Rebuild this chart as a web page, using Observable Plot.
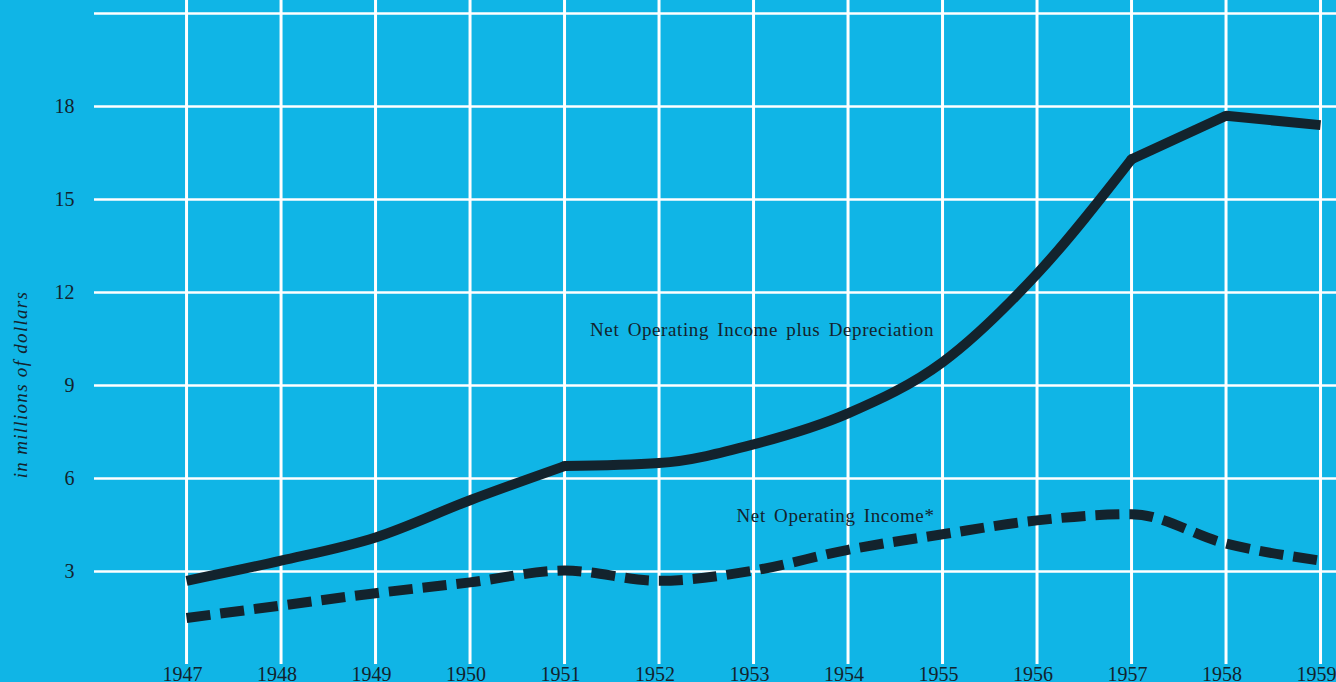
<!DOCTYPE html>
<html>
<head>
<meta charset="utf-8">
<script src="https://cdn.jsdelivr.net/npm/d3@7"></script>
<script src="https://cdn.jsdelivr.net/npm/@observablehq/plot@0.6"></script>
<style>
  html, body { margin: 0; padding: 0; background: #10b5e6; }
  #chart svg { display: block; }
</style>
</head>
<body>
<div id="chart"></div>
<script>
// Years on the horizontal axis
const years = [1947, 1948, 1949, 1950, 1951, 1952, 1953, 1954, 1955, 1956, 1957, 1958, 1959];
// Net operating income plus depreciation, millions of dollars
const netPlusDepreciation = [2.7, 3.35, 4.1, 5.3, 6.4, 6.5, 7.1, 8.1, 9.75, 12.6, 16.3, 17.7, 17.4];
// Net operating income, millions of dollars
const netOperatingIncome = [1.5, 1.9, 2.3, 2.65, 3.03, 2.7, 3.03, 3.7, 4.2, 4.65, 4.85, 3.9, 3.35];
// Labelled y ticks and horizontal grid values
const yTickValues = [3, 6, 9, 12, 15, 18];
const yGridValues = [3, 6, 9, 12, 15, 18, 21];
// Years where the solid line turns sharply
const bendYears = [1951, 1957];

const solidRows = years.map((year, i) => ({year, value: netPlusDepreciation[i]}));
const dashedRows = years.map((year, i) => ({year, value: netOperatingIncome[i]}));

const ink = "#13232d";
const serif = "'Liberation Serif', 'DejaVu Serif', serif";

// the solid line is drawn in pieces so it can bend sharply at the bend years
const solidEarly = solidRows.filter((d) => d.year <= bendYears[0]);
const solidMiddle = solidRows.filter((d) => d.year >= bendYears[0] && d.year <= bendYears[1]);
const solidLate = solidRows.filter((d) => d.year >= bendYears[1]);
const solidBends = solidRows.filter((d) => bendYears.includes(d.year));

const solidStyle = {x: "year", y: "value", stroke: ink, strokeWidth: 10, strokeLinecap: "butt", strokeLinejoin: "miter"};

const chart = Plot.plot({
  width: 1336,
  height: 682,
  marginLeft: 94,
  marginRight: 0,
  marginTop: 0,
  marginBottom: 18,
  style: {background: "#10b5e6", fontFamily: serif, color: ink, overflow: "visible"},
  x: {type: "linear", domain: [1946.026, 1959.169]},
  y: {domain: [0, 21.42]},
  marks: [
    Plot.ruleY(yGridValues, {stroke: "white", strokeWidth: 2.5}),
    Plot.ruleX(years, {stroke: "white", strokeWidth: 3}),
    Plot.axisY(yTickValues, {
      tickSize: 0, tickPadding: 20, fontSize: 20, fill: ink, label: null
    }),
    Plot.axisX(years, {
      tickSize: 0, tickPadding: 2, fontSize: 20, fill: ink, label: null,
      tickFormat: (d) => String(d), dx: -4
    }),
    // rotated unit caption beside the y axis
    Plot.text(["in millions of dollars"], {
      frameAnchor: "left", textAnchor: "middle", rotate: -90, dx: -74, dy: 52,
      fontSize: 19, fontStyle: "italic", fill: ink, fontFamily: serif
    }),
    Plot.line(solidEarly, {...solidStyle, curve: "monotone-x"}),
    Plot.line(solidMiddle, {...solidStyle, curve: "monotone-x"}),
    Plot.line(solidLate, {...solidStyle, curve: "linear"}),
    Plot.dot(solidBends, {x: "year", y: "value", r: 5, fill: ink, stroke: null}),
    Plot.line(dashedRows, {
      x: "year", y: "value", stroke: ink, strokeWidth: 10,
      curve: "monotone-x", strokeLinecap: "butt", strokeDasharray: "24,10"
    }),
    Plot.text(["Net Operating Income plus Depreciation"], {
      x: 1951.27, y: 10.8, textAnchor: "start", fontSize: 19, fill: ink, fontFamily: serif
    }),
    Plot.text(["Net Operating Income*"], {
      x: 1952.82, y: 4.8, textAnchor: "start", fontSize: 19, fill: ink, fontFamily: serif
    })
  ]
});

// widen the tracking of the series labels and the unit caption
d3.select(chart).selectAll("text")
  .filter(function () { return this.textContent.startsWith("Net Operating"); })
  .style("letter-spacing", "0.6px").style("word-spacing", "3px");
d3.select(chart).selectAll("text")
  .filter(function () { return this.textContent === "in millions of dollars"; })
  .style("letter-spacing", "1.3px");

document.getElementById("chart").appendChild(chart);
</script>
</body>
</html>
